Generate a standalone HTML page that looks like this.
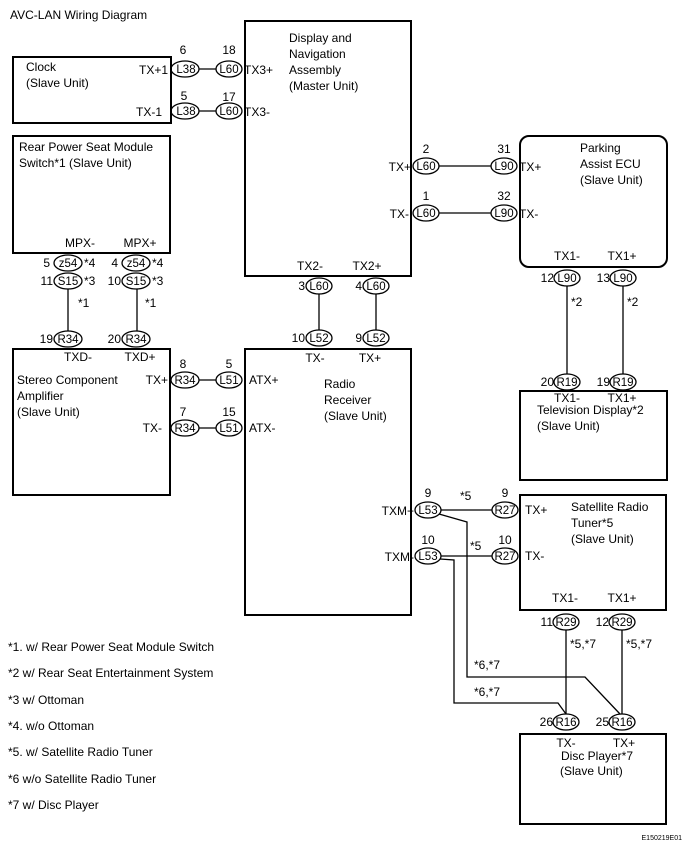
<!DOCTYPE html>
<html><head><meta charset="utf-8"><style>
html,body{margin:0;padding:0;background:#fff;}
svg{display:block;}
text{font-family:"Liberation Sans",Arial,sans-serif;font-size:12px;fill:#000;}
.c text{font-size:11.5px;}
</style></head><body>
<svg width="688" height="847" viewBox="0 0 688 847" xmlns="http://www.w3.org/2000/svg">
<g fill="none" stroke="#000" stroke-width="2">
<rect x="13" y="57" width="158" height="66"/>
<rect x="245" y="21" width="166" height="255"/>
<rect x="13" y="136" width="157" height="117"/>
<rect x="520" y="136" width="147" height="131" rx="9"/>
<rect x="13" y="349" width="157" height="146"/>
<rect x="245" y="349" width="166" height="266"/>
<rect x="520" y="391" width="147" height="89"/>
<rect x="520" y="495" width="146" height="115"/>
<rect x="520" y="734" width="146" height="90"/>
</g>
<g fill="none" stroke="#000" stroke-width="1.3">
<line x1="199" y1="69" x2="216" y2="69"/><line x1="199" y1="111" x2="216" y2="111"/>
<line x1="439" y1="166" x2="491" y2="166"/><line x1="439" y1="213" x2="491" y2="213"/>
<line x1="567" y1="286" x2="567" y2="374"/><line x1="623" y1="286" x2="623" y2="374"/>
<line x1="319" y1="294" x2="319" y2="330"/><line x1="376" y1="294" x2="376" y2="330"/>
<line x1="68" y1="289" x2="68" y2="331"/><line x1="137" y1="289" x2="137" y2="331"/>
<line x1="199" y1="380" x2="216" y2="380"/><line x1="199" y1="428" x2="216" y2="428"/>
<line x1="441" y1="510" x2="492" y2="510"/><line x1="441" y1="556" x2="492" y2="556"/>
<line x1="566" y1="630" x2="566" y2="714"/><line x1="622" y1="630" x2="622" y2="714"/>
<polyline points="439,514 467,522 467,677 585,677 620,714"/>
<polyline points="440,559 454,560 454,703 558,703 566,714"/>
<ellipse cx="185" cy="69" rx="14" ry="8"/><ellipse cx="229" cy="69" rx="13" ry="8"/>
<ellipse cx="185" cy="111" rx="14" ry="8"/><ellipse cx="229" cy="111" rx="13" ry="8"/>
<ellipse cx="426" cy="166" rx="13" ry="8"/><ellipse cx="504" cy="166" rx="13" ry="8"/>
<ellipse cx="426" cy="213" rx="13" ry="8"/><ellipse cx="504" cy="213" rx="13" ry="8"/>
<ellipse cx="567" cy="278" rx="13" ry="8"/><ellipse cx="623" cy="278" rx="13" ry="8"/>
<ellipse cx="567" cy="382" rx="13" ry="8"/><ellipse cx="623" cy="382" rx="13" ry="8"/>
<ellipse cx="319" cy="286" rx="13" ry="8"/><ellipse cx="376" cy="286" rx="13" ry="8"/>
<ellipse cx="319" cy="338" rx="13" ry="8"/><ellipse cx="376" cy="338" rx="13" ry="8"/>
<ellipse cx="68" cy="263" rx="14" ry="8"/><ellipse cx="136" cy="263" rx="14" ry="8"/>
<ellipse cx="68" cy="281" rx="14" ry="8"/><ellipse cx="136" cy="281" rx="14" ry="8"/>
<ellipse cx="68" cy="339" rx="14" ry="8"/><ellipse cx="136" cy="339" rx="14" ry="8"/>
<ellipse cx="185" cy="380" rx="14" ry="8"/><ellipse cx="229" cy="380" rx="13" ry="8"/>
<ellipse cx="185" cy="428" rx="14" ry="8"/><ellipse cx="229" cy="428" rx="13" ry="8"/>
<ellipse cx="428" cy="510" rx="13" ry="8"/><ellipse cx="505" cy="510" rx="13" ry="8"/>
<ellipse cx="428" cy="556" rx="13" ry="8"/><ellipse cx="505" cy="556" rx="13" ry="8"/>
<ellipse cx="566" cy="622" rx="13" ry="8"/><ellipse cx="622" cy="622" rx="13" ry="8"/>
<ellipse cx="566" cy="722" rx="13" ry="8"/><ellipse cx="622" cy="722" rx="13" ry="8"/>
</g>
<g text-anchor="middle" class="c">
<text x="186" y="73">L38</text><text x="229" y="73">L60</text>
<text x="186" y="115">L38</text><text x="229" y="115">L60</text>
<text x="426" y="170">L60</text><text x="504" y="170">L90</text>
<text x="426" y="217">L60</text><text x="504" y="217">L90</text>
<text x="567" y="282">L90</text><text x="623" y="282">L90</text>
<text x="567" y="386">R19</text><text x="623" y="386">R19</text>
<text x="319" y="290">L60</text><text x="376" y="290">L60</text>
<text x="319" y="342">L52</text><text x="376" y="342">L52</text>
<text x="68" y="267">z54</text><text x="136" y="267">z54</text>
<text x="68" y="285">S15</text><text x="136" y="285">S15</text>
<text x="68" y="343">R34</text><text x="136" y="343">R34</text>
<text x="185" y="384">R34</text><text x="229" y="384">L51</text>
<text x="185" y="432">R34</text><text x="229" y="432">L51</text>
<text x="428" y="514">L53</text><text x="505" y="514">R27</text>
<text x="428" y="560">L53</text><text x="505" y="560">R27</text>
<text x="566" y="626">R29</text><text x="622" y="626">R29</text>
<text x="566" y="726">R16</text><text x="622" y="726">R16</text>
</g>
<g text-anchor="middle">
<text x="183" y="54">6</text><text x="229" y="54">18</text>
<text x="184" y="100">5</text><text x="229" y="101">17</text>
<text x="426" y="153">2</text><text x="504" y="153">31</text>
<text x="426" y="200">1</text><text x="504" y="200">32</text>
<text x="183" y="368">8</text><text x="229" y="368">5</text>
<text x="183" y="416">7</text><text x="229" y="416">15</text>
<text x="428" y="497">9</text><text x="505" y="497">9</text>
<text x="428" y="544">10</text><text x="505" y="544">10</text>
<text x="80" y="247">MPX-</text><text x="140" y="247">MPX+</text>
<text x="78" y="361">TXD-</text><text x="140" y="361">TXD+</text>
<text x="310" y="270">TX2-</text><text x="367" y="270">TX2+</text>
<text x="315" y="362">TX-</text><text x="370" y="362">TX+</text>
<text x="567" y="260">TX1-</text><text x="622" y="260">TX1+</text>
<text x="567" y="402">TX1-</text><text x="622" y="402">TX1+</text>
<text x="565" y="602">TX1-</text><text x="622" y="602">TX1+</text>
<text x="566" y="747">TX-</text><text x="624" y="747">TX+</text>
</g>
<g text-anchor="end">
<text x="50" y="267">5</text><text x="118" y="267">4</text>
<text x="53" y="285">11</text><text x="121" y="285">10</text>
<text x="53" y="343">19</text><text x="121" y="343">20</text>
<text x="305" y="290">3</text><text x="362" y="290">4</text>
<text x="305" y="342">10</text><text x="362" y="342">9</text>
<text x="554" y="282">12</text><text x="610" y="282">13</text>
<text x="554" y="386">20</text><text x="610" y="386">19</text>
<text x="553" y="626">11</text><text x="609" y="626">12</text>
<text x="553" y="726">26</text><text x="609" y="726">25</text>
<text x="168" y="74">TX+1</text><text x="162" y="116">TX-1</text>
<text x="411" y="171">TX+</text><text x="409" y="218">TX-</text>
<text x="168" y="384">TX+</text><text x="162" y="432">TX-</text>
<text x="414" y="515">TXM+</text><text x="414" y="561">TXM-</text>
</g>
<text x="10" y="19">AVC-LAN Wiring Diagram</text>
<text x="26" y="71">Clock</text><text x="26" y="87">(Slave Unit)</text>
<text x="244" y="74">TX3+</text><text x="244" y="116">TX3-</text>
<text x="289" y="42">Display and</text><text x="289" y="58">Navigation</text><text x="289" y="74">Assembly</text><text x="289" y="90">(Master Unit)</text>
<text x="19" y="151">Rear Power Seat Module</text><text x="19" y="167">Switch*1 (Slave Unit)</text>
<text x="84" y="267">*4</text><text x="152" y="267">*4</text>
<text x="84" y="285">*3</text><text x="152" y="285">*3</text>
<text x="78" y="307">*1</text><text x="145" y="307">*1</text>
<text x="519" y="171">TX+</text><text x="519" y="218">TX-</text>
<text x="580" y="152">Parking</text><text x="580" y="168">Assist ECU</text><text x="580" y="184">(Slave Unit)</text>
<text x="571" y="306">*2</text><text x="627" y="306">*2</text>
<text x="17" y="384">Stereo Component</text><text x="17" y="400">Amplifier</text><text x="17" y="416">(Slave Unit)</text>
<text x="249" y="384">ATX+</text><text x="249" y="432">ATX-</text>
<text x="324" y="388">Radio</text><text x="324" y="404">Receiver</text><text x="324" y="420">(Slave Unit)</text>
<text x="537" y="414">Television Display*2</text><text x="537" y="430">(Slave Unit)</text>
<text x="460" y="500">*5</text><text x="470" y="550">*5</text>
<text x="525" y="514">TX+</text><text x="525" y="560">TX-</text>
<text x="571" y="511">Satellite Radio</text><text x="571" y="527">Tuner*5</text><text x="571" y="543">(Slave Unit)</text>
<text x="570" y="648">*5,*7</text><text x="626" y="648">*5,*7</text>
<text x="474" y="669">*6,*7</text><text x="474" y="696">*6,*7</text>
<text x="561" y="760">Disc Player*7</text><text x="560" y="775">(Slave Unit)</text>
<text x="8" y="651">*1. w/ Rear Power Seat Module Switch</text>
<text x="8" y="677">*2  w/ Rear Seat Entertainment System</text>
<text x="8" y="704">*3  w/ Ottoman</text>
<text x="8" y="730">*4. w/o Ottoman</text>
<text x="8" y="756">*5. w/ Satellite Radio Tuner</text>
<text x="8" y="783">*6  w/o Satellite Radio Tuner</text>
<text x="8" y="809">*7  w/ Disc Player</text>
<text x="682" y="840" text-anchor="end" style="font-size:7px">E150219E01</text>
</svg>
</body></html>
